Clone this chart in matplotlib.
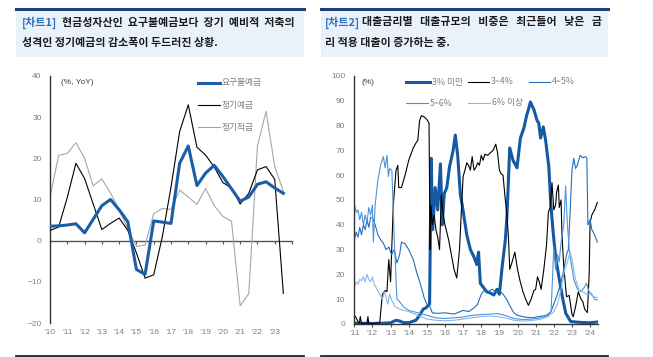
import numpy as np
import matplotlib
matplotlib.use("Agg")
import matplotlib.pyplot as plt
from matplotlib.patches import Rectangle
from matplotlib.lines import Line2D

plt.rcParams['font.family'] = ['Noto Sans CJK KR', 'DejaVu Sans']
plt.rcParams['axes.unicode_minus'] = True

# DATA -----------------------------------------------------------------------------------------------------------------
# chart 1: semi-annual YoY growth (%), 2010H1 .. 2023H2
half_years = np.arange(2010, 2024, 0.5)
demand_dep = [3.5, 3.6, 3.8, 4.1, 1.9, 5.2, 8.5, 10.0, 7.5, 4.6, -7.0, -8.2, 4.8, 4.5,
              4.2, 18.8, 23.0, 13.4, 16.4, 18.3, 15.6, 12.6, 9.6, 10.6, 13.7, 14.3, 12.8, 11.5]
time_dep = [2.5, 3.3, 10.5, 18.8, 15.1, 8.9, 2.7, 4.2, 5.5, 2.5, -3.0, -9.1, -8.3, 1.0,
            13.0, 26.5, 33.0, 22.7, 20.8, 17.9, 14.1, 12.8, 8.9, 11.5, 17.2, 18.0, 14.9, -12.8]
install_sav = [10.6, 20.7, 21.2, 23.8, 20.0, 13.3, 15.0, 11.6, 7.5, 2.9, -1.4, -1.1, 6.6, 7.8,
               7.6, 12.3, 10.6, 8.8, 12.7, 8.5, 5.9, 4.7, -15.8, -12.9, 23.0, 31.4, 18.0, 12.0]
labels1 = ["요구불예금", "정기예금", "정기적금"]
xticks1 = ["'10", "'11", "'12", "'13", "'14", "'15", "'16", "'17", "'18", "'19", "'20", "'21", "'22", "'23"]

# chart 2: share of loans by interest-rate band (%)
x_lt3 = [2011.0, 2011.5, 2012.0, 2012.5, 2013.0, 2013.3, 2013.5, 2013.7, 2014.0, 2014.4,
         2014.6, 2014.8, 2014.95, 2015.15, 2015.24, 2015.32, 2015.46, 2015.6, 2015.75, 2015.85,
         2015.96, 2016.1, 2016.25, 2016.45, 2016.57, 2016.7, 2016.85, 2016.95, 2017.2, 2017.4,
         2017.6, 2017.75, 2017.85, 2017.95, 2018.3, 2018.5, 2018.69, 2018.87, 2019.0, 2019.15,
         2019.33, 2019.42, 2019.57, 2019.75, 2019.97, 2020.16, 2020.35, 2020.5, 2020.62, 2020.71,
         2020.9, 2021.08, 2021.17, 2021.27, 2021.42, 2021.55, 2021.73, 2021.82, 2021.95, 2022.1,
         2022.29, 2022.47, 2022.66, 2022.93, 2023.2, 2023.6, 2024.0, 2024.4]
y_lt3 = [0.3, 0.3, 0.2, 0.3, 0.5, 1.5, 1.2, 0.6, 0.5, 1.5,
         3.5, 6.0, 6.5, 8.0, 66.8, 38.0, 55.0, 46.0, 64.6, 40.0,
         52.6, 55.0, 63.4, 70.0, 76.2, 68.0, 52.0, 48.0, 36.0, 30.0,
         27.0, 24.0, 29.0, 16.4, 13.0, 12.5, 11.7, 14.0, 12.0, 23.0,
         34.0, 44.0, 71.0, 66.0, 63.0, 75.0, 79.0, 84.0, 87.0, 89.5,
         86.5, 82.0, 81.0, 75.0, 79.5, 74.0, 63.0, 50.0, 38.0, 27.0,
         18.6, 11.0, 4.3, 1.0, 0.8, 0.6, 0.5, 0.8]

x_34 = [2011.0, 2011.1, 2011.2, 2011.28, 2011.33, 2011.4, 2011.6, 2011.7, 2011.75, 2011.8,
        2012.0, 2012.4, 2012.55, 2012.7, 2012.8, 2012.9, 2013.0, 2013.15, 2013.3, 2013.4,
        2013.45, 2013.6, 2013.8, 2014.0, 2014.1, 2014.25, 2014.4, 2014.5, 2014.6, 2014.7,
        2014.85, 2015.0, 2015.12, 2015.18, 2015.22, 2015.3, 2015.4, 2015.5, 2015.6, 2015.7,
        2015.8, 2015.9, 2016.0, 2016.2, 2016.35, 2016.5, 2016.65, 2016.8, 2016.9, 2017.0,
        2017.1, 2017.2, 2017.3, 2017.4, 2017.5, 2017.6, 2017.7, 2017.8, 2017.9, 2018.0,
        2018.1, 2018.2, 2018.35, 2018.5, 2018.65, 2018.8, 2018.9, 2019.0, 2019.1, 2019.2,
        2019.3, 2019.4, 2019.5, 2019.57, 2019.7, 2019.85, 2020.0, 2020.15, 2020.3, 2020.45,
        2020.6, 2020.75, 2020.9, 2021.0, 2021.1, 2021.2, 2021.3, 2021.45, 2021.6, 2021.7,
        2021.8, 2021.9, 2022.0, 2022.1, 2022.15, 2022.25, 2022.3, 2022.4, 2022.45, 2022.55,
        2022.7, 2022.85, 2023.0, 2023.07, 2023.2, 2023.35, 2023.5, 2023.6, 2023.7, 2023.85,
        2023.95, 2024.0, 2024.1, 2024.25, 2024.4]
y_34 = [3.6, 2.5, 1.0, 0.3, 3.0, 0.2, 0.1, 0.2, 3.0, 0.2,
        0.2, 0.5, 12.0, 13.5, 13.0, 26.0, 17.0, 48.0, 62.0, 64.0,
        55.0, 55.0, 60.0, 66.0, 68.0, 71.0, 73.0, 74.0, 82.0, 84.0,
        83.5, 82.5, 81.0, 30.0, 48.0, 40.0, 44.0, 38.0, 35.0, 30.0,
        52.0, 44.0, 40.0, 34.0, 28.0, 22.0, 18.5, 30.0, 45.0, 59.5,
        62.0, 65.0, 64.0, 62.0, 67.5, 62.0, 63.0, 65.0, 64.0, 68.0,
        66.0, 68.5, 68.0, 69.0, 70.0, 72.5, 69.0, 62.0, 60.5, 60.0,
        52.0, 45.0, 35.0, 22.0, 25.0, 29.0, 22.0, 17.0, 13.0, 10.0,
        7.5, 10.0, 13.5, 14.0, 19.0, 17.0, 14.0, 22.0, 32.0, 45.0,
        47.0, 57.0, 46.0, 48.0, 53.0, 56.0, 47.0, 50.0, 36.0, 23.0,
        11.0, 11.5, 4.0, 2.9, 7.0, 13.0, 10.0, 9.0, 6.0, 4.6,
        20.0, 41.0, 44.0, 46.0, 49.0]

x_45 = [2011.0, 2011.1, 2011.2, 2011.3, 2011.4, 2011.5, 2011.6, 2011.7, 2011.8, 2011.9,
        2012.0, 2012.15, 2012.3, 2012.45, 2012.6, 2012.75, 2012.9, 2013.05, 2013.2, 2013.35,
        2013.5, 2013.6, 2013.8, 2014.0, 2014.25, 2014.45, 2014.65, 2014.85, 2015.0, 2015.15,
        2015.3, 2015.6, 2016.0, 2016.5, 2017.0, 2017.3, 2017.6, 2017.8, 2018.0, 2018.2,
        2018.4, 2018.6, 2018.8, 2019.0, 2019.2, 2019.4, 2019.6, 2019.8, 2020.0, 2020.4,
        2020.8, 2021.2, 2021.6, 2021.85, 2022.0, 2022.1, 2022.2, 2022.35, 2022.5, 2022.6,
        2022.7, 2022.8, 2022.9, 2023.0, 2023.1, 2023.2, 2023.3, 2023.45, 2023.6, 2023.75,
        2023.82, 2023.88, 2024.0, 2024.1, 2024.25, 2024.4]
y_45 = [33.9, 37.0, 35.0, 39.0, 36.0, 40.0, 38.0, 42.0, 39.0, 43.0,
        43.0, 40.0, 36.0, 34.0, 32.6, 30.0, 31.0, 28.0, 30.0, 24.6,
        28.0, 33.0, 32.4, 30.0, 26.0, 20.5, 16.0, 10.6, 8.0, 7.3,
        4.5, 4.3, 4.5, 4.0, 5.5, 5.0, 6.5, 8.0, 12.0, 14.0,
        13.0, 14.0, 13.0, 13.5, 12.0, 10.0, 7.0, 4.5, 3.5, 2.8,
        2.5, 3.0, 3.5, 5.0, 8.0, 10.0, 12.0, 16.0, 20.0, 24.0,
        28.0, 30.0, 45.0, 62.0, 66.8, 62.7, 64.0, 68.0, 67.0, 67.5,
        67.0, 40.0, 42.0, 38.0, 36.0, 33.0]

x_56 = [2011.0, 2011.1, 2011.2, 2011.3, 2011.4, 2011.5, 2011.6, 2011.7, 2011.8, 2011.9,
        2012.0, 2012.05, 2012.15, 2012.3, 2012.45, 2012.6, 2012.7, 2012.8, 2012.88, 2012.95,
        2013.07, 2013.2, 2013.35, 2013.5, 2013.7, 2014.0, 2014.5, 2015.0, 2015.5, 2016.0,
        2016.5, 2017.0, 2017.5, 2018.0, 2018.5, 2018.9, 2019.3, 2019.8, 2020.3, 2020.8,
        2021.3, 2021.7, 2021.85, 2022.0, 2022.1, 2022.2, 2022.3, 2022.4, 2022.55, 2022.65,
        2022.75, 2022.85, 2022.95, 2023.1, 2023.3, 2023.5, 2023.7, 2023.8, 2023.95, 2024.1,
        2024.25, 2024.4]
y_56 = [48.6, 45.0, 46.0, 42.0, 45.0, 40.0, 44.0, 41.0, 47.0, 44.0,
        48.0, 33.0, 48.0, 58.0, 64.0, 67.5, 63.0, 68.0, 59.4, 62.7,
        62.0, 35.0, 10.0, 9.0, 7.0, 5.5, 4.5, 3.5, 2.5, 2.2,
        2.5, 2.8, 3.5, 3.8, 4.0, 4.2, 3.5, 2.2, 1.8, 2.0,
        2.5, 3.5, 5.0, 31.0, 22.0, 28.0, 25.0, 33.0, 40.0, 55.6,
        40.0, 30.0, 25.0, 18.0, 14.0, 13.0, 15.0, 16.4, 13.0, 12.0,
        10.0, 9.7]

x_6p = [2011.0, 2011.1, 2011.2, 2011.3, 2011.4, 2011.5, 2011.6, 2011.7, 2011.8, 2011.9,
        2012.0, 2012.1, 2012.25, 2012.4, 2012.55, 2012.65, 2012.75, 2012.85, 2012.95, 2013.1,
        2013.25, 2013.5, 2013.75, 2014.0, 2014.5, 2015.0, 2015.5, 2016.0, 2016.5, 2017.0,
        2017.5, 2018.0, 2018.5, 2018.9, 2019.3, 2019.8, 2020.3, 2020.8, 2021.3, 2021.7,
        2022.0, 2022.2, 2022.4, 2022.6, 2022.75, 2022.9, 2023.0, 2023.2, 2023.4, 2023.6,
        2023.8, 2024.0, 2024.2, 2024.4]
y_6p = [15.1, 17.0, 16.0, 18.0, 17.5, 19.0, 17.0, 20.0, 18.0, 17.0,
        19.0, 16.0, 14.0, 12.0, 10.0, 13.0, 11.0, 8.0, 12.0, 9.0,
        7.0, 6.0, 5.5, 5.0, 3.5, 2.0, 1.5, 1.3, 1.5, 2.0,
        2.5, 3.0, 3.2, 3.0, 2.5, 1.5, 1.2, 1.4, 2.0, 3.0,
        5.0, 8.0, 14.0, 22.0, 25.0, 29.0, 26.0, 18.0, 13.7, 13.0,
        12.0, 12.0, 11.0, 10.7]
labels2 = ["3% 미만", "3~4%", "4~5%", "5~6%", "6% 이상"]
xticks2 = ["'11", "'12", "'13", "'14", "'15", "'16", "'17", "'18", "'19", "'20", "'21", "'22", "'23", "'24"]

# FIGURE ---------------------------------------------------------------------------------------------------------------
W, H = 653, 357
fig = plt.figure(figsize=(W / 100, H / 100), dpi=100)
fig.patch.set_facecolor('white')


def fx(x):
    return x / W


def fy(y):
    return 1 - y / H


GRAY = '#7f7f7f'
TICKFONT = ['Liberation Sans', 'DejaVu Sans']
THICK = 2.2
THIN = 0.8

# header boxes + bottom rules
for x0, x1 in [(16, 304), (321, 608)]:
    fig.add_artist(Rectangle((fx(x0), fy(57)), (x1 - x0) / W, 48 / H, transform=fig.transFigure,
                             facecolor='#e9f1fb', edgecolor='none', zorder=0))
    fig.add_artist(Line2D([fx(x0), fx(x1)], [fy(9), fy(9)], lw=2.2, color='#1f3f78'))
    fig.add_artist(Line2D([fx(x0), fx(x1)], [fy(356), fy(356)], lw=1.3, color='#222222'))

hdr = dict(fontsize=7.9, fontweight='bold', va='center', ha='left')
fig.text(fx(22), fy(22.5), "[차트1]", color='#2f6fbf', **hdr)
fig.text(fx(62), fy(22.5), "현금성자산인  요구불예금보다  장기  예비적  저축의", color='#1a1a1a', **hdr)
fig.text(fx(22), fy(43), "성격인 정기예금의 감소폭이 두드러진 상황.", color='#1a1a1a', **hdr)
fig.text(fx(325), fy(22.5), "[차트2]", color='#2f6fbf', **hdr)
fig.text(fx(362), fy(22.5), "대출금리별   대출규모의   비중은   최근들어   낮은   금", color='#1a1a1a', **hdr)
fig.text(fx(325), fy(43), "리 적용 대출이 증가하는 중.", color='#1a1a1a', **hdr)

# CHART 1 --------------------------------------------------------------------------------------------------------------
ax1 = fig.add_axes([fx(50), fy(323), 242 / W, 247 / H])
ax1.plot(half_years, demand_dep, color='#1a5ea8', lw=THICK, zorder=4)
ax1.plot(half_years, time_dep, color='black', lw=THIN, zorder=3)
ax1.plot(half_years, install_sav, color='#a6a6a6', lw=THIN, zorder=2)
ax1.set_xlim(2010, 2024)
ax1.set_ylim(-20, 40)
ax1.set_yticks(range(-20, 41, 10))
ax1.set_xticks(range(2010, 2024))
ax1.set_xticklabels(xticks1)
for s in ['top', 'right', 'bottom']:
    ax1.spines[s].set_visible(False)
ax1.spines['left'].set_color('#333333')
ax1.spines['left'].set_linewidth(1.0)
ax1.tick_params(axis='y', length=0, pad=6, labelsize=6, labelcolor=GRAY)
ax1.tick_params(axis='x', length=0, pad=4, labelsize=6, labelcolor=GRAY)
for t in ax1.get_xticklabels() + ax1.get_yticklabels():
    t.set_family(TICKFONT)
# zero line with tick marks
sec = ax1.secondary_xaxis(20 / 60)
sec.set_xticks(range(2010, 2025))
sec.tick_params(axis='x', length=2.5, width=0.8, color='#555555', labelbottom=False, direction='out')
sec.spines['bottom'].set_color('#555555')
sec.spines['bottom'].set_linewidth(1.0)
ax1.text(0.045, 0.975, "(%, YoY)", transform=ax1.transAxes, fontsize=6, color='#404040',
         va='center', family=TICKFONT)

# legend 1
leg1 = [(labels1[0], '#1a5ea8', THICK, 83), (labels1[1], 'black', THIN, 105), (labels1[2], '#a6a6a6', THIN, 127)]
for lab, c, lw, y in leg1:
    fig.add_artist(Line2D([fx(198), fx(220)], [fy(y), fy(y)], lw=lw, color=c))
    fig.text(fx(222), fy(y), lab, fontsize=6.3, color=GRAY, va='center')

# CHART 2 --------------------------------------------------------------------------------------------------------------
ax2 = fig.add_axes([fx(354.3), fy(324), 243.4 / W, 248 / H])
c2 = ['#135aa2', 'black', '#1f6fbd', '#4d94dd', '#86b8e8']
w2 = [THICK, THIN, THIN, THIN, THIN]
series2 = [(x_lt3, y_lt3), (x_34, y_34), (x_45, y_45), (x_56, y_56), (x_6p, y_6p)]
for (xs, ys), c, lw in zip(series2, c2, w2):
    ax2.plot(xs, ys, color=c, lw=lw)
ax2.set_xlim(2011, 2024.42)
ax2.set_ylim(0, 100)
ax2.set_yticks(range(0, 101, 10))
ax2.set_xticks(range(2011, 2025))
ax2.set_xticklabels(xticks2)
for s in ['top', 'right']:
    ax2.spines[s].set_visible(False)
for s in ['left', 'bottom']:
    ax2.spines[s].set_color('#333333')
    ax2.spines[s].set_linewidth(1.0)
ax2.tick_params(axis='y', length=0, pad=6.5, labelsize=6, labelcolor=GRAY)
ax2.tick_params(axis='x', length=2.5, width=0.8, color='#555555', pad=2, labelsize=6, labelcolor=GRAY)
for t in ax2.get_xticklabels() + ax2.get_yticklabels():
    t.set_family(TICKFONT)
ax2.text(0.03, 0.975, "(%)", transform=ax2.transAxes, fontsize=6, color='#404040',
         va='center', family=TICKFONT)

# legend 2
pos2 = [(406, 430, 82), (468, 489, 82), (529, 550, 82), (406, 428, 103), (468, 490, 103)]
for lab, c, lw, (xa, xb, y) in zip(labels2, c2, w2, pos2):
    fig.add_artist(Line2D([fx(xa), fx(xb)], [fy(y), fy(y)], lw=lw, color=c))
    fig.text(fx(xb + 2), fy(y), lab, fontsize=6.3, color=GRAY, va='center')

fig.savefig('out.png', dpi=100)
